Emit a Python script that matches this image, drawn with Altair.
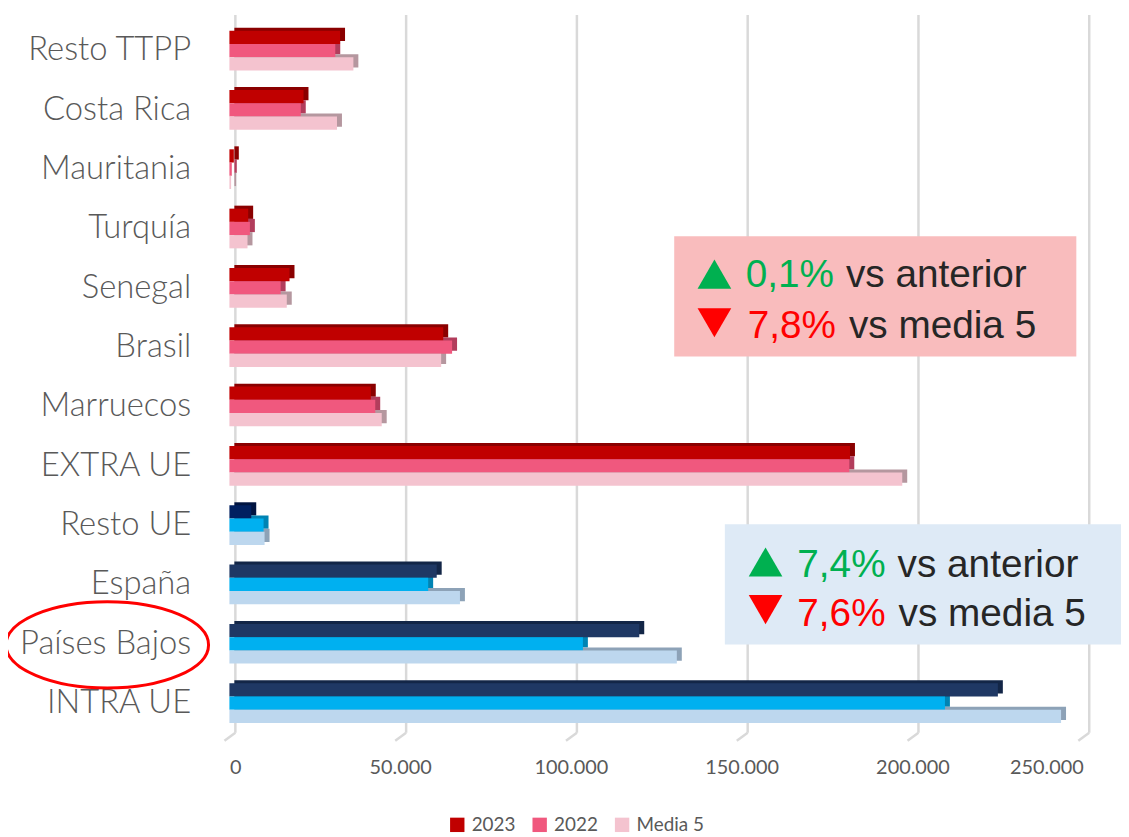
import altair as alt
import pandas as pd

categorias = ["Resto TTPP", "Costa Rica", "Mauritania", "Turquía", "Senegal", "Brasil",
              "Marruecos", "EXTRA UE", "Resto UE", "España", "Países Bajos", "INTRA UE"]
grupo = ["EXTRA"] * 8 + ["INTRA"] * 4
v2023 = [32400, 21700, 1300, 5500, 17600, 62600, 41400, 181700, 6400, 60700, 120000, 225000]
v2022 = [31000, 20900, 700, 6000, 15000, 65200, 42700, 181500, 10000, 58200, 103500, 209500]
media5 = [36300, 31500, 500, 5300, 16800, 62000, 44600, 197000, 10300, 67500, 131000, 243500]
series = ["2023", "2022", "Media 5"]
ticks_x = [0, 50000, 100000, 150000, 200000, 250000]

claves = ["2023", "2022", "Media 5", "2023 UE", "2022 UE", "Media 5 UE", "2023 RUE"]
col_frente = ["#C00000", "#F0587E", "#F4C3CF", "#1F3864", "#00B0F0", "#BDD7EE", "#002060"]
col_sombra = ["#8A0000", "#B23D5C", "#B5979F", "#132647", "#0083B3", "#8DA2B7", "#001440"]

txt_extra = ["0,1%", "vs anterior", "7,8%", "vs media 5"]
txt_intra = ["7,4%", "vs anterior", "7,6%", "vs media 5"]

rows = []
for i, c in enumerate(categorias):
    for s, vals in zip(series, [v2023, v2022, media5]):
        key = s if grupo[i] == "EXTRA" else s + " UE"
        if c == "Resto UE" and s == "2023":
            key = "2023 RUE"
        rows.append({"cat": c, "serie": s, "valor": vals[i], "key": key, "sombra": key})
df = pd.DataFrame(rows)
grid_df = pd.DataFrame({"v": ticks_x})
one = pd.DataFrame({"a": [0]})

W, H = 860, 717
BAND = 40.0
DEPTH = 3

xscale = alt.Scale(domain=[0, 250000], nice=False, zero=True)
yenc = alt.Y("cat:N", sort=categorias,
             scale=alt.Scale(paddingInner=0.33, paddingOuter=0.165),
             axis=alt.Axis(title=None, ticks=False, domain=False, grid=False,
                           labelFont="Lato", labelFontSize=33, labelFontWeight=300,
                           labelColor="#595959", labelPadding=39))

grid = alt.Chart(grid_df).mark_rule(color="#D9D9D9", strokeWidth=2.5, xOffset=6).encode(
    x=alt.X("v:Q", scale=xscale,
            axis=alt.Axis(title=None, values=ticks_x, grid=False, ticks=False, tickSize=0,
                          domain=False, labelFont="Lato", labelFontSize=20,
                          labelColor="#595959", labelPadding=25,
                          labelExpr="replace(format(datum.value, ','), ',', '.')")),
    y=alt.value(-6), y2=alt.value(H))
feet = alt.Chart(grid_df).mark_rule(color="#D9D9D9", strokeWidth=2.5, xOffset=6, x2Offset=-5).encode(
    x=alt.X("v:Q", scale=xscale), x2="v:Q", y=alt.value(H), y2=alt.value(H + 8))

sombra = alt.Chart(df).mark_bar(xOffset=5).encode(
    y=yenc,
    yOffset=alt.YOffset("serie:N", sort=series,
                        scale=alt.Scale(paddingInner=0, paddingOuter=0,
                                        range=[-DEPTH, BAND - DEPTH])),
    x=alt.X("valor:Q", scale=xscale),
    color=alt.Color("sombra:N", scale=alt.Scale(domain=claves, range=col_sombra), legend=None))

frente = alt.Chart(df).mark_bar().encode(
    y=yenc,
    yOffset=alt.YOffset("serie:N", sort=series,
                        scale=alt.Scale(paddingInner=0, paddingOuter=0, range=[0, BAND])),
    x=alt.X("valor:Q", scale=xscale),
    color=alt.Color("key:N", scale=alt.Scale(domain=claves, range=col_frente),
                    legend=alt.Legend(values=series, title=None, orient="none",
                                      legendX=220, legendY=800, direction="horizontal",
                                      symbolType="square", symbolSize=210, symbolStrokeWidth=0,
                                      labelFont="Lato", labelFontSize=19, labelColor="#595959",
                                      labelOffset=5, columnPadding=14)))

def caja(x1, x2, y1, y2, color):
    return alt.Chart(one).mark_rect(color=color).encode(
        x=alt.value(x1), x2=alt.value(x2), y=alt.value(y1), y2=alt.value(y2))

def texto(s, x, y, color):
    return alt.Chart(one).mark_text(align="left", baseline="alphabetic", font="Liberation Sans",
                                    fontSize=39, color=color).encode(
        x=alt.value(x), y=alt.value(y), text=alt.value(s))

def tri(shape, x, y, color):
    return alt.Chart(one).mark_point(shape=shape, filled=True, size=1150, color=color, opacity=1).encode(
        x=alt.value(x), y=alt.value(y))

verde, rojo, oscuro = "#00B050", "#FF0000", "#262626"

anot = [
    caja(448, 853, 217, 338, "#F9BCBD"),
    tri("triangle-up", 488.5, 255, verde),
    texto(txt_extra[0], 520, 268, verde),
    texto(txt_extra[1], 621, 268, oscuro),
    tri("triangle-down", 488.5, 304, rojo),
    texto(txt_extra[2], 522, 319, rojo),
    texto(txt_extra[3], 624, 319, oscuro),
    caja(499, 899, 507, 628, "#DEEAF6"),
    tri("triangle-up", 540, 545, verde),
    texto(txt_intra[0], 572, 560, verde),
    texto(txt_intra[1], 673, 560, oscuro),
    tri("triangle-down", 540, 593, rojo),
    texto(txt_intra[2], 572, 609, rojo),
    texto(txt_intra[3], 674, 609, oscuro),
]

elipse = alt.Chart(one).mark_point(
    shape="M-1,0 A1,0.426 0 1,1 1,0 A1,0.426 0 1,1 -1,0 Z",
    filled=False, size=204 * 204, color="#FF0000", strokeWidth=3, opacity=1).encode(
    x=alt.value(-123), y=alt.value(628.5))

chart = alt.layer(grid, feet, sombra, frente, *anot, elipse).resolve_scale(
    color="independent", yOffset="independent").properties(
    width=W, height=H,
    autosize=alt.AutoSizeParams(type="none"),
    padding={"left": 223, "top": 10, "right": 38, "bottom": 100},
).configure_view(stroke=None)

chart.save("out.html", embed_options={"renderer": "svg", "actions": False})
